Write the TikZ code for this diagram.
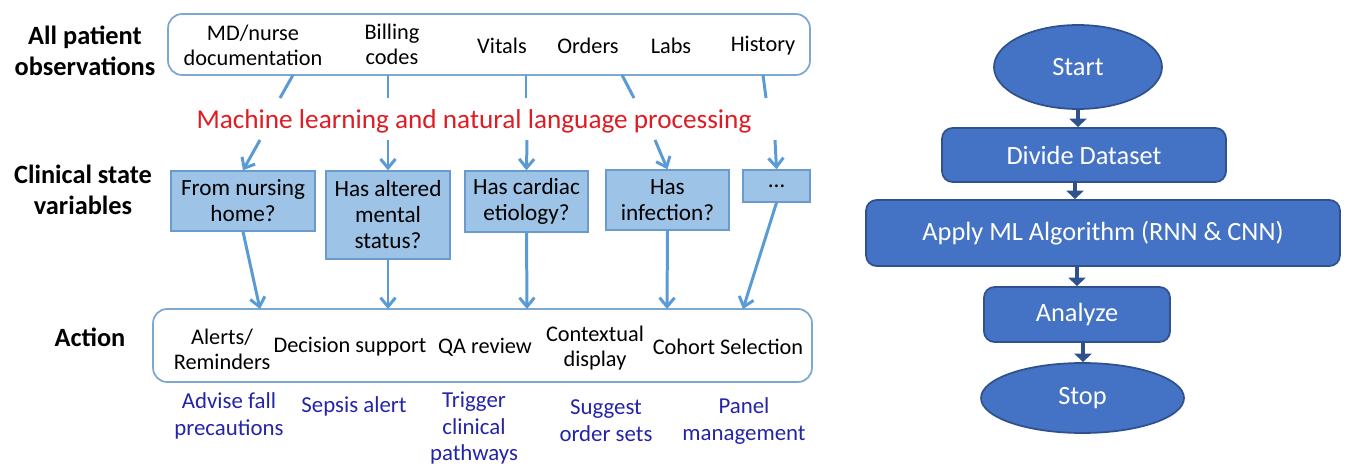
\documentclass[tikz,border=0pt]{standalone}
\usepackage{fontspec}
\setmainfont{Carlito}
\usetikzlibrary{positioning,calc}
\usetikzlibrary{arrows.meta,shapes.geometric}
\definecolor{LinkBlue}{RGB}{91,155,213}
\definecolor{FrameBlue}{RGB}{125,168,208}
\definecolor{BoxFill}{RGB}{157,195,230}
\definecolor{BoxEdge}{RGB}{105,155,205}
\definecolor{MLRed}{RGB}{222,28,36}
\definecolor{NoteBlue}{RGB}{36,36,168}
\definecolor{FlowBlue}{RGB}{68,114,196}
\definecolor{FlowEdge}{RGB}{47,82,143}
\newcommand\lblfont{\fontsize{12.7}{14.4}\selectfont}
\newcommand\varfont{\fontsize{13.2}{14.8}\selectfont}
\newcommand\headfont{\fontsize{15}{18}\selectfont\bfseries}
\newcommand\notefont{\fontsize{13}{15.3}\selectfont}
\newcommand\flowfont{\fontsize{15}{18}\selectfont}
\tikzset{
  lab/.style={align=center,inner sep=0pt,font=\lblfont},
  head/.style={align=center,inner sep=0pt,font=\headfont},
  note/.style={align=center,inner sep=0pt,font=\notefont,text=NoteBlue},
  obsframe/.style={draw=FrameBlue,line width=1pt,rounded corners=8pt,inner sep=0pt},
  svar/.style={draw=BoxEdge,fill=BoxFill,line width=0.8pt,align=center,inner sep=0pt,font=\varfont},
  link/.style={draw=LinkBlue,line width=1.7pt},
  arr/.style={link,-{Straight Barb[length=1.8mm,width=3mm]}},
}
\tikzset{flowbox/.style={draw=FlowEdge,fill=FlowBlue,line width=1pt,text=white,font=\flowfont,rounded corners=6pt,inner sep=0pt},
  flowend/.style={ellipse,draw=FlowEdge,fill=FlowBlue,line width=1pt,text=white,font=\flowfont,inner sep=0pt},
  flowarr/.style={draw=FlowEdge,line width=2.8pt,-{Triangle[length=1.7mm,width=3.4mm]}}}

\begin{document}
\begin{tikzpicture}[x=0.02cm,y=-0.02cm]
\useasboundingbox (0,0) rectangle (1346,466);
% row titles
\node[head] (allobs) at (85,51) {All patient\\observations};
\node[head] (clin) at (83,190) {Clinical state\\variables};
\node[head] (act) at (90,337) {Action};
% observations
\node[obsframe,minimum width=12.84cm,minimum height=1.22cm] (obsbox) at (489,44.5) {};
\node[lab] (doc) at (253,45) {MD/nurse\\documentation};
\node[lab] (bill) at (392,44) {Billing\\codes};
\node[lab] (vit) at (502,46) {Vitals};
\node[lab] (ord) at (588,46) {Orders};
\node[lab] (labs) at (671,46) {Labs};
\node[lab] (hist) at (763,46) {History};
\node[inner sep=0pt,font=\fontsize{15.5}{18}\selectfont,text=MLRed] (ml) at (474,121) {Machine learning and natural language processing};
% clinical state variables
\node[svar,minimum width=2.88cm,minimum height=1.2cm] (nurse) at (243,201) {From nursing\\home?};
\node[svar,minimum width=2.48cm,minimum height=1.76cm] (mental) at (388,215) {Has altered\\mental\\status?};
\node[svar,minimum width=2.46cm,minimum height=1.22cm] (cardiac) at (526.5,201.5) {Has cardiac\\etiology?};
\node[svar,minimum width=2.46cm,minimum height=1.2cm] (infect) at (667.5,200) {Has\\infection?};
\node[svar,minimum width=1.34cm,minimum height=0.64cm] (more) at (776.5,186) {…};
% actions
\node[obsframe,minimum width=13.18cm,minimum height=1.46cm] (actbox) at (482.5,345.5) {};
\node[lab] (alerts) at (222,349) {Alerts/\\Reminders};
\node[lab] (decis) at (350,347) {Decision support};
\node[lab] (qa) at (485,347) {QA review};
\node[lab] (context) at (595,348) {Contextual\\display};
\node[lab] (cohort) at (728,347) {Cohort Selection};
\node[note] (fall) at (229,416) {Advise fall\\precautions};
\node[note] (sepsis) at (354,406) {Sepsis alert};
\node[note] (trigger) at (474,428) {Trigger\\clinical\\pathways};
\node[note] (suggest) at (606,421) {Suggest\\order sets};
\node[note] (panel) at (744,421) {Panel\\management};
% connector ends
\coordinate (t1) at (293,75); \coordinate (m1) at (280,98);
\coordinate (t2) at (388,75); \coordinate (m2) at (388,98);
\coordinate (t3) at (526,75); \coordinate (m3) at (526,98);
\coordinate (t4) at (622,75); \coordinate (m4) at (634,98);
\coordinate (t5) at (763,75); \coordinate (m5) at (766,98);
\coordinate (a1) at (260,140); \coordinate (a2) at (388,140);
\coordinate (a3) at (527,140); \coordinate (a4) at (655,140);
\coordinate (a5) at (775,140);
\coordinate (c1) at (260,309); \coordinate (c2) at (388,309);
\coordinate (c3) at (527,309); \coordinate (c4) at (667,309);
\coordinate (c5) at (743,309);
\foreach \i in {1,...,5} \draw[link] (t\i) -- (m\i);
\draw[arr] (a1) -- (nurse.north);
\draw[arr] (a2) -- (mental.north);
\draw[arr] (a3) -- (cardiac.north);
\draw[arr] (a4) -- (infect.north);
\draw[arr] (a5) -- (more.north);
\draw[arr] (nurse.south) -- (c1);
\draw[arr] (mental.south) -- (c2);
\draw[arr] (cardiac.south) -- (c3);
\draw[arr] (infect.south) -- (c4);
\draw[arr] (more.south) -- (c5);
% flowchart
\node[flowend,minimum width=3.36cm,minimum height=1.68cm] (start) at (1078,67) {Start};
\node[flowbox,minimum width=5.68cm,minimum height=1.08cm] (divide) at (1084,155) {Divide Dataset};
\node[flowbox,minimum width=9.48cm,minimum height=1.32cm] (apply) at (1103,233) {Apply ML Algorithm (RNN \& CNN)};
\node[flowbox,minimum width=3.72cm,minimum height=1.1cm] (analyze) at (1077,314.5) {Analyze};
\node[flowend,minimum width=4.06cm,minimum height=1.4cm] (stop) at (1082.5,398) {Stop};
\draw[flowarr] (start.south) -- (start.south |- divide.north);
\draw[flowarr] ([xshift=-0.18cm]divide.south) -- ([xshift=-0.18cm]divide.south |- apply.north);
\draw[flowarr] (analyze.north |- apply.south) -- (analyze.north);
\draw[flowarr] ([xshift=0.12cm]analyze.south) -- ([xshift=0.12cm]analyze.south |- stop.north);
\end{tikzpicture}
\end{document}
